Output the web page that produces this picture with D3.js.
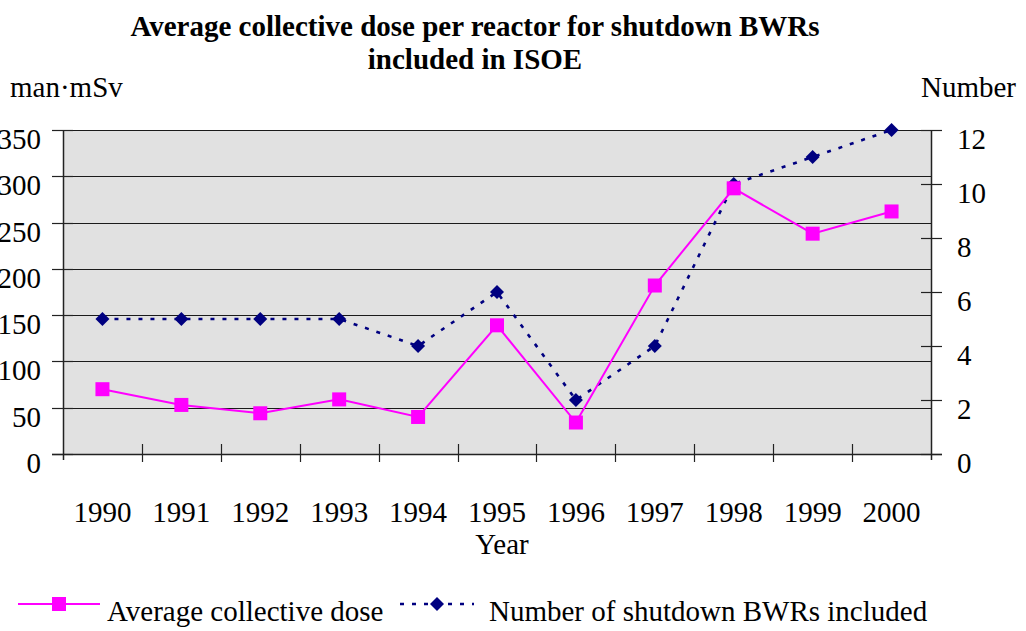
<!DOCTYPE html>
<html>
<head>
<meta charset="utf-8">
<script src="https://cdn.jsdelivr.net/npm/d3@7"></script>
<style>
  html, body { margin: 0; padding: 0; background: #fff; }
  svg { display: block; font-family: "Liberation Serif", "Times New Roman", serif; }
</style>
</head>
<body>
<svg id="chart" width="1026" height="631"></svg>
<script>
// Shutdown BWRs in ISOE, 1990-2000
const years = ["1990", "1991", "1992", "1993", "1994", "1995", "1996", "1997", "1998", "1999", "2000"];
const avgDose = [70, 53, 44, 59, 40, 139, 34, 182, 287, 238, 262];       // man·mSv
const reactorCount = [5, 5, 5, 5, 4, 6, 2, 4, 10, 11, 12];               // number of reactors
const doseTicks = [0, 50, 100, 150, 200, 250, 300, 350];
const countTicks = [0, 2, 4, 6, 8, 10, 12];
const titleLines = ["Average collective dose per reactor for shutdown BWRs", "included in ISOE"];
const seriesNames = ["Average collective dose", "Number of shutdown BWRs included"];

const svg = d3.select("#chart");
const plot = { left: 63, right: 931, top: 130, bottom: 454 };
const FONT = 29;

const x = d3.scaleBand().domain(years).range([plot.left, plot.right]).padding(0);
const yL = d3.scaleLinear().domain([0, 350]).range([plot.bottom, plot.top]);
const yR = d3.scaleLinear().domain([0, 12]).range([plot.bottom, plot.top]);

const DOSE_COLOR = "#ff00ff";
const COUNT_COLOR = "#000080";

// Plot background
svg.append("rect")
  .attr("x", plot.left).attr("y", plot.top)
  .attr("width", plot.right - plot.left).attr("height", plot.bottom - plot.top)
  .attr("fill", "#e1e1e1");

// Horizontal gridlines at left-axis ticks
svg.append("g").selectAll("line").data(doseTicks).join("line")
  .attr("x1", plot.left).attr("x2", plot.right)
  .attr("y1", d => Math.round(yL(d)) + 0.5).attr("y2", d => Math.round(yL(d)) + 0.5)
  .attr("stroke", "#1a1a1a").attr("stroke-width", 1);

// Left axis
const gL = svg.append("g").attr("stroke", "#222");
gL.append("line").attr("x1", plot.left + 0.5).attr("x2", plot.left + 0.5)
  .attr("y1", plot.top).attr("y2", plot.bottom + 6).attr("stroke-width", 1.5);
gL.selectAll("line.tick").data(doseTicks).join("line").attr("class", "tick")
  .attr("x1", plot.left - 11).attr("x2", plot.left + 10)
  .attr("y1", d => Math.round(yL(d)) + 0.5).attr("y2", d => Math.round(yL(d)) + 0.5)
  .attr("stroke-width", 1.2);
svg.append("g").selectAll("text").data(doseTicks).join("text")
  .attr("x", 41).attr("y", d => yL(d) + 19)
  .attr("text-anchor", "end").attr("font-size", FONT).attr("fill", "#000")
  .text(d => d);

// Right axis
const gR = svg.append("g").attr("stroke", "#222");
gR.append("line").attr("x1", plot.right + 0.5).attr("x2", plot.right + 0.5)
  .attr("y1", plot.top).attr("y2", plot.bottom + 6).attr("stroke-width", 1.5);
gR.selectAll("line.tick").data(countTicks).join("line").attr("class", "tick")
  .attr("x1", plot.right - 10).attr("x2", plot.right + 11)
  .attr("y1", d => Math.round(yR(d)) + 0.5).attr("y2", d => Math.round(yR(d)) + 0.5)
  .attr("stroke-width", 1.2);
svg.append("g").selectAll("text").data(countTicks).join("text")
  .attr("x", 957).attr("y", d => yR(d) + 19)
  .attr("text-anchor", "start").attr("font-size", FONT).attr("fill", "#000")
  .text(d => d);

// Bottom axis with ticks between categories
const gB = svg.append("g").attr("stroke", "#222");
gB.append("line").attr("x1", plot.left - 11).attr("x2", plot.right + 11)
  .attr("y1", plot.bottom + 0.5).attr("y2", plot.bottom + 0.5).attr("stroke-width", 1.5);
const boundaries = years.slice(1).map(d => x(d));
gB.selectAll("line.tick").data(boundaries).join("line").attr("class", "tick")
  .attr("x1", d => Math.round(d) + 0.5).attr("x2", d => Math.round(d) + 0.5)
  .attr("y1", plot.bottom - 10).attr("y2", plot.bottom + 8)
  .attr("stroke-width", 1.2);
svg.append("g").selectAll("text").data(years).join("text")
  .attr("x", d => x(d) + x.bandwidth() / 2).attr("y", 522)
  .attr("text-anchor", "middle").attr("font-size", FONT).attr("fill", "#000")
  .text(d => d);

// Axis titles
svg.append("text").attr("x", 502).attr("y", 554).attr("text-anchor", "middle")
  .attr("font-size", FONT).text("Year");
svg.append("text").attr("x", 10).attr("y", 97).attr("text-anchor", "start")
  .attr("font-size", FONT).text("man·mSv");
svg.append("text").attr("x", 1016).attr("y", 97).attr("text-anchor", "end")
  .attr("font-size", FONT).text("Number");

// Chart title
svg.append("text").attr("text-anchor", "middle").attr("font-size", FONT)
  .attr("font-weight", "bold")
  .selectAll("tspan").data(titleLines).join("tspan")
  .attr("x", 475).attr("y", (d, i) => 36 + i * 33).text(d => d);

const cx = d => x(d) + x.bandwidth() / 2;

// Reactor count series (right axis), dotted navy with diamonds
const countLine = d3.line().x((d, i) => cx(years[i])).y(d => yR(d));
svg.append("path").datum(reactorCount)
  .attr("d", countLine).attr("fill", "none")
  .attr("stroke", COUNT_COLOR).attr("stroke-width", 2.6)
  .attr("stroke-dasharray", "4,8");
const diamond = s => `M0,${-s}L${s},0L0,${s}L${-s},0Z`;
svg.append("g").selectAll("path").data(reactorCount).join("path")
  .attr("transform", (d, i) => `translate(${cx(years[i])},${yR(d)})`)
  .attr("d", diamond(7)).attr("fill", COUNT_COLOR);

// Average dose series (left axis), solid magenta with squares
const doseLine = d3.line().x((d, i) => cx(years[i])).y(d => yL(d));
svg.append("path").datum(avgDose)
  .attr("d", doseLine).attr("fill", "none")
  .attr("stroke", DOSE_COLOR).attr("stroke-width", 2);
svg.append("g").selectAll("rect").data(avgDose).join("rect")
  .attr("x", (d, i) => cx(years[i]) - 7).attr("y", d => yL(d) - 7)
  .attr("width", 14).attr("height", 14).attr("fill", DOSE_COLOR);

// Legend
const lg = svg.append("g");
lg.append("line").attr("x1", 18).attr("x2", 100).attr("y1", 604).attr("y2", 604)
  .attr("stroke", DOSE_COLOR).attr("stroke-width", 2);
lg.append("rect").attr("x", 52).attr("y", 597).attr("width", 14).attr("height", 14)
  .attr("fill", DOSE_COLOR);
lg.append("text").attr("x", 107).attr("y", 621).attr("font-size", FONT).text(seriesNames[0]);

lg.append("line").attr("x1", 400).attr("x2", 474).attr("y1", 604).attr("y2", 604)
  .attr("stroke", COUNT_COLOR).attr("stroke-width", 2.6).attr("stroke-dasharray", "4,8");
lg.append("path").attr("transform", "translate(437,604)").attr("d", diamond(7))
  .attr("fill", COUNT_COLOR);
lg.append("text").attr("x", 489).attr("y", 621).attr("font-size", FONT).text(seriesNames[1]);
</script>
</body>
</html>
